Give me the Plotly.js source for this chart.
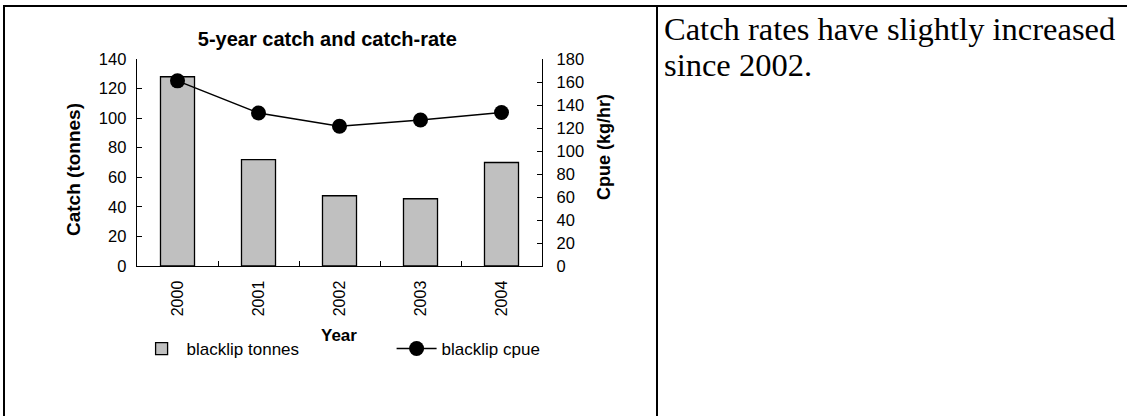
<!DOCTYPE html>
<html>
<head>
<meta charset="utf-8">
<script src="https://cdn.plot.ly/plotly-3.0.1.min.js"></script>
<style>
  html, body { margin: 0; padding: 0; background: #fff; width: 1127px; height: 416px; overflow: hidden; }
  #frame-left { position: absolute; left: 3px; top: 5px; width: 2px; height: 420px; background: #000; }
  #frame-top { position: absolute; left: 3px; top: 5px; width: 1130px; height: 2px; background: #000; }
  #frame-mid { position: absolute; left: 656px; top: 5px; width: 2px; height: 420px; background: #000; }
  #note { position: absolute; left: 664px; top: 11px; width: 462px; font-family: "Liberation Serif", "Times New Roman", serif; font-size: 32.5px; line-height: 36px; color: #000; }
  #chart { position: absolute; left: 0; top: 0; width: 1127px; height: 416px; }
</style>
</head>
<body>
<div id="chart"></div>
<div id="frame-left"></div>
<div id="frame-top"></div>
<div id="frame-mid"></div>
<div id="note">Catch rates have slightly increased since 2002.</div>
<script>
// ---- data ----
const years = ["2000", "2001", "2002", "2003", "2004"];
const catchTonnes = [128, 72, 47.5, 45.5, 70];
const cpue = [161, 133, 121.5, 127, 133.5];
const leftTicks = [0, 20, 40, 60, 80, 100, 120, 140];
const rightTicks = [0, 20, 40, 60, 80, 100, 120, 140, 160, 180];

const FONT = "Arial, 'Liberation Sans', sans-serif";

const traces = [
  {
    type: "bar",
    name: "blacklip tonnes",
    x: years,
    y: catchTonnes,
    yaxis: "y",
    marker: { color: "#C0C0C0", line: { color: "#000", width: 1.3 } },
    width: 0.42
  },
  {
    type: "scatter",
    mode: "lines+markers",
    name: "blacklip cpue",
    x: years,
    y: cpue,
    yaxis: "y2",
    line: { color: "#000", width: 1.5 },
    marker: { color: "#000", size: 15, symbol: "circle" }
  }
];

const layout = {
  width: 1127,
  height: 416,
  margin: { l: 137, r: 585, t: 59, b: 150, pad: 0, autoexpand: false },
  paper_bgcolor: "rgba(0,0,0,0)",
  plot_bgcolor: "rgba(0,0,0,0)",
  font: { family: FONT, color: "#000", size: 16.5 },
  showlegend: true,
  title: {
    text: "<b>5-year catch and catch-rate</b>",
    font: { family: FONT, size: 20, color: "#000" },
    xref: "paper", x: 0.47, xanchor: "center",
    yref: "container", y: 1 - 39 / 416, yanchor: "middle"
  },
  xaxis: {
    type: "category",
    range: [-0.5, 4.5],
    tickangle: -90,
    ticks: "inside",
    tickson: "boundaries",
    ticklen: 5,
    tickcolor: "#000",
    showline: true,
    linecolor: "#000",
    linewidth: 1.3,
    showgrid: false,
    zeroline: false,
    tickfont: { family: FONT, size: 16, color: "#000" },
    ticklabelstandoff: 7,
    fixedrange: true
  },
  yaxis: {
    range: [0, 140],
    tickvals: leftTicks,
    ticks: "inside",
    ticklen: 5,
    tickcolor: "#000",
    showline: true,
    linecolor: "#000",
    linewidth: 1.3,
    showgrid: false,
    zeroline: false,
    tickfont: { family: FONT, size: 16.5, color: "#000" },
    ticklabelstandoff: 6,
    fixedrange: true
  },
  yaxis2: {
    range: [0, 180],
    tickvals: rightTicks,
    overlaying: "y",
    side: "right",
    ticks: "inside",
    ticklen: 5,
    tickcolor: "#000",
    showline: true,
    linecolor: "#000",
    linewidth: 1.3,
    showgrid: false,
    zeroline: false,
    tickfont: { family: FONT, size: 16.5, color: "#000" },
    ticklabelstandoff: 10,
    fixedrange: true
  },
  legend: {
    orientation: "h",
    xref: "paper", x: -0.001, xanchor: "left",
    yref: "paper", y: (266 - 349) / 207, yanchor: "middle",
    font: { family: FONT, size: 17, color: "#000" },
    itemwidth: 40,
    entrywidth: 200,
    entrywidthmode: "pixels",
    bgcolor: "rgba(0,0,0,0)",
    borderwidth: 0,
    traceorder: "normal"
  },
  annotations: [
    {
      text: "<b>Catch (tonnes)</b>", textangle: -90,
      xref: "paper", x: (73 - 137) / 405, xanchor: "center",
      yref: "paper", y: (266 - 170) / 207, yanchor: "middle",
      showarrow: false, font: { family: FONT, size: 19, color: "#000" }
    },
    {
      text: "<b>Cpue (kg/hr)</b>", textangle: -90,
      xref: "paper", x: (604 - 137) / 405, xanchor: "center",
      yref: "paper", y: (266 - 147) / 207, yanchor: "middle",
      showarrow: false, font: { family: FONT, size: 18, color: "#000" }
    },
    {
      text: "<b>Year</b>",
      xref: "paper", x: (339 - 137) / 405, xanchor: "center",
      yref: "paper", y: (266 - 335) / 207, yanchor: "middle",
      showarrow: false, font: { family: FONT, size: 17, color: "#000" }
    }
  ]
};

Plotly.newPlot("chart", traces, layout, { displayModeBar: false, staticPlot: true });
</script>
</body>
</html>
